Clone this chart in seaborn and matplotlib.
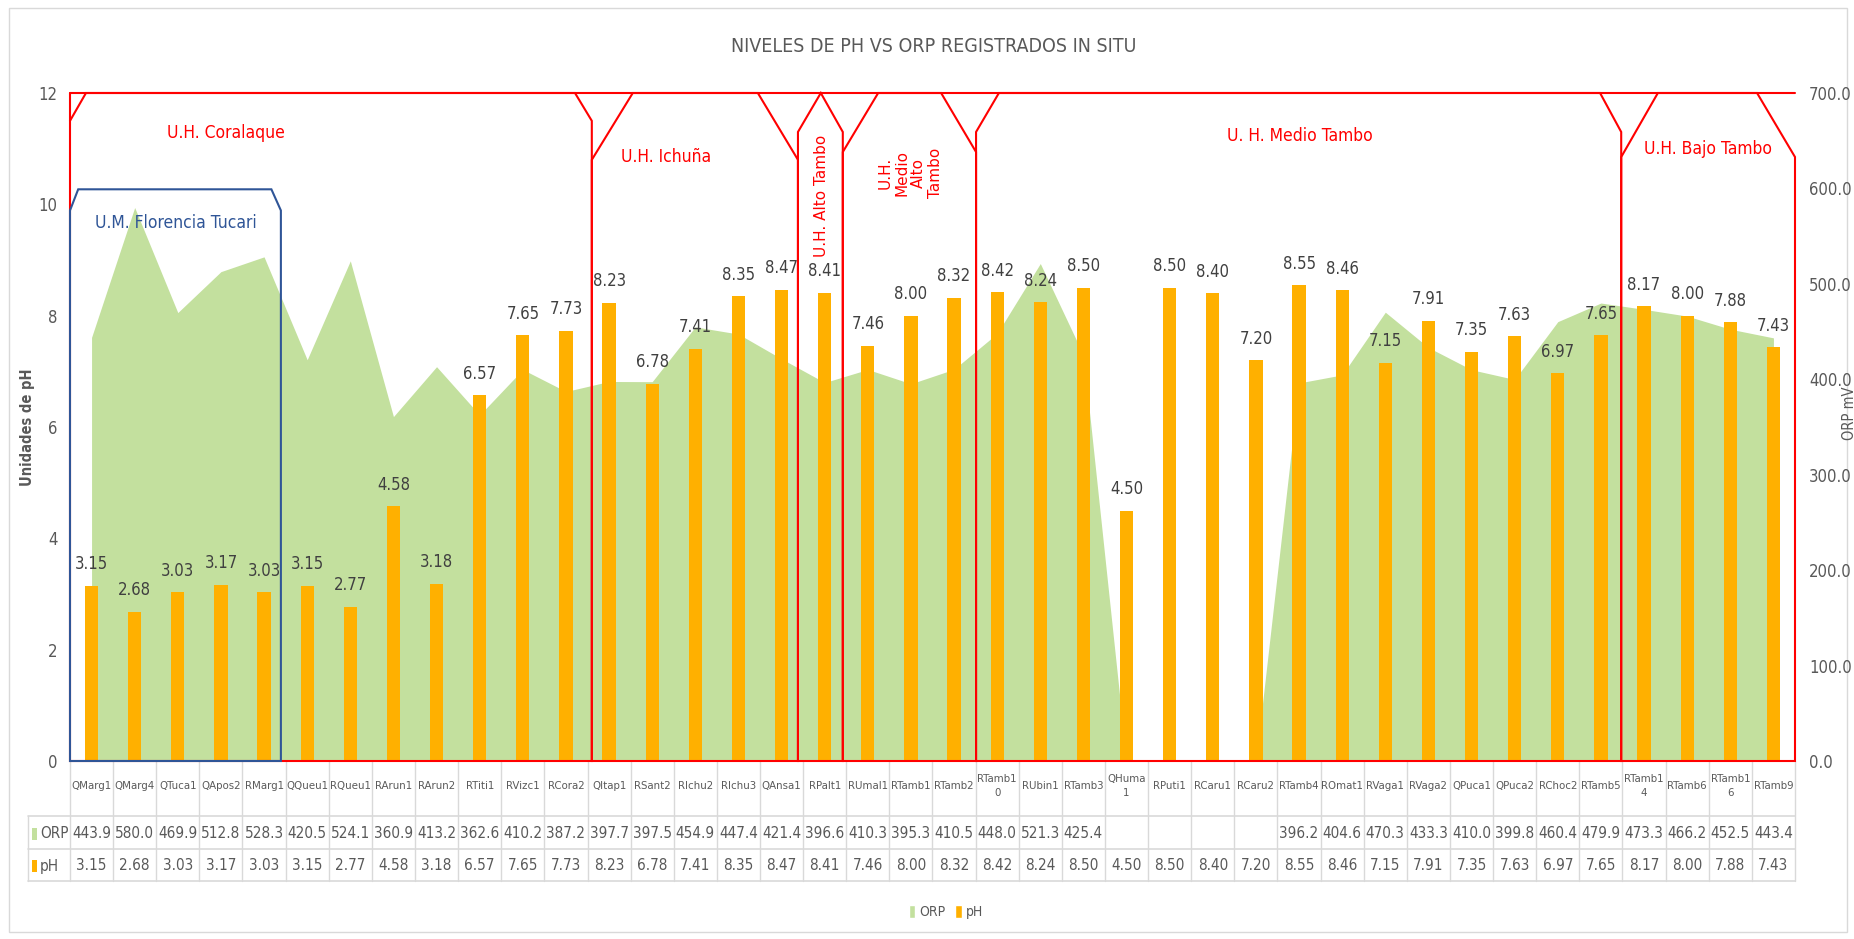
import numpy as np
import pandas as pd
import seaborn as sns
import matplotlib
matplotlib.use("Agg")
from matplotlib import pyplot as plt
from matplotlib import font_manager
from matplotlib.patches import Polygon, Rectangle, Patch
from matplotlib.lines import Line2D
import matplotlib.transforms as mtransforms

# data
sites = ["QMarg1", "QMarg4", "QTuca1", "QApos2", "RMarg1", "QQueu1", "RQueu1", "RArun1",
         "RArun2", "RTiti1", "RVizc1", "RCora2", "QItap1", "RSant2", "RIchu2", "RIchu3",
         "QAnsa1", "RPalt1", "RUmal1", "RTamb1", "RTamb2", "RTamb10", "RUbin1", "RTamb3",
         "QHuma1", "RPuti1", "RCaru1", "RCaru2", "RTamb4", "ROmat1", "RVaga1", "RVaga2",
         "QPuca1", "QPuca2", "RChoc2", "RTamb5", "RTamb14", "RTamb6", "RTamb16", "RTamb9"]
site_labels = ["QMarg1", "QMarg4", "QTuca1", "QApos2", "RMarg1", "QQueu1", "RQueu1", "RArun1",
               "RArun2", "RTiti1", "RVizc1", "RCora2", "QItap1", "RSant2", "RIchu2", "RIchu3",
               "QAnsa1", "RPalt1", "RUmal1", "RTamb1", "RTamb2", "RTamb1\n0", "RUbin1", "RTamb3",
               "QHuma\n1", "RPuti1", "RCaru1", "RCaru2", "RTamb4", "ROmat1", "RVaga1", "RVaga2",
               "QPuca1", "QPuca2", "RChoc2", "RTamb5", "RTamb1\n4", "RTamb6", "RTamb1\n6", "RTamb9"]
orp = [443.9, 580.0, 469.9, 512.8, 528.3, 420.5, 524.1, 360.9, 413.2, 362.6, 410.2, 387.2,
       397.7, 397.5, 454.9, 447.4, 421.4, 396.6, 410.3, 395.3, 410.5, 448.0, 521.3, 425.4,
       np.nan, np.nan, np.nan, np.nan, 396.2, 404.6, 470.3, 433.3, 410.0, 399.8, 460.4, 479.9,
       473.3, 466.2, 452.5, 443.4]
ph = [3.15, 2.68, 3.03, 3.17, 3.03, 3.15, 2.77, 4.58, 3.18, 6.57, 7.65, 7.73,
      8.23, 6.78, 7.41, 8.35, 8.47, 8.41, 7.46, 8.00, 8.32, 8.42, 8.24, 8.50,
      4.50, 8.50, 8.40, 7.20, 8.55, 8.46, 7.15, 7.91, 7.35, 7.63, 6.97, 7.65,
      8.17, 8.00, 7.88, 7.43]

df = pd.DataFrame({"site": sites, "ORP": orp, "pH": ph})

GREEN = "#C3E09E"
ORANGE = "#FFB000"
RED = "#FF0000"
BLUE = "#2F5597"
GRAY = "#595959"
W, H = 1854, 939

sns.set_style("white")
# narrow face if one is installed (the original uses Calibri)
narrow = [f for f in font_manager.fontManager.ttflist
          if f.name == "DejaVu Sans" and f.stretch in ("condensed", "semi-condensed")
          and f.weight in (400, "normal")]
if narrow:
    plt.rcParams["font.family"] = ["DejaVu Sans"]
    plt.rcParams["font.stretch"] = "condensed"
    FS = 11
    CAT_FS = 8.2
else:
    plt.rcParams["font.family"] = ["Liberation Sans", "DejaVu Sans"]
    FS = 10
    CAT_FS = 8

fig = plt.figure(figsize=(W / 100, H / 100), dpi=100)
ax = fig.add_axes([70 / W, 1 - 761 / H, 1725 / W, 668 / H])
ax2 = ax.twinx()

# ORP area (blank values drawn as zero like the spreadsheet)
xs = np.arange(len(df))
ax2.fill_between(xs, df["ORP"].fillna(0).values, 0, color=GREEN, linewidth=0)
ax2.set_ylim(0, 700)
ax2.set_yticks(np.arange(0, 701, 100))
ax2.set_yticklabels([f"{v:.1f}" for v in np.arange(0, 701, 100)])

# pH bars
sns.barplot(data=df, x="site", y="pH", order=sites, ax=ax, color=ORANGE,
            saturation=1, width=0.31, linewidth=0)
ax.bar_label(ax.containers[0], fmt="%.2f", padding=9, color="#404040", fontsize=FS + 1)
ax.set_ylim(0, 12)
ax.set_xlim(-0.5, len(df) - 0.5)
ax2.set_xlim(-0.5, len(df) - 0.5)
ax.set_yticks(np.arange(0, 13, 2))
ax.set_xlabel("")
ax.set_ylabel("Unidades de pH", color=GRAY, fontsize=10.5, fontweight="bold")
ax.yaxis.set_label_coords(-35 / 1725, 0.5)
ax2.set_ylabel("ORP mV", color=GRAY, fontsize=10.5)
ax2.yaxis.set_label_coords((1842 - 70) / 1725, 0.52)
ax.tick_params(axis="x", length=0, labelbottom=False)
ax.tick_params(axis="y", length=0, pad=9, labelcolor=GRAY, labelsize=FS + 1)
ax2.tick_params(axis="y", length=0, pad=10, labelcolor=GRAY, labelsize=FS + 1)
for a in (ax, ax2):
    for s in a.spines.values():
        s.set_visible(False)
ax.set_zorder(2)
ax.patch.set_visible(False)
ax2.set_zorder(1)

# hydrographic unit boxes
boxes = [
    ([(-0.5, 0), (-0.5, 11.5), (-0.13, 12), (11.21, 12), (11.6, 11.5), (11.6, 0)], RED),
    ([(11.6, 0), (11.6, 10.8), (12.55, 12), (15.45, 12), (16.38, 10.8), (16.38, 0)], RED),
    ([(16.38, 0), (16.38, 11.3), (16.91, 12), (17.42, 11.3), (17.42, 0)], RED),
    ([(17.42, 0), (17.42, 10.94), (18.24, 12), (19.7, 12), (20.51, 10.94), (20.51, 0)], RED),
    ([(20.51, 0), (20.51, 11.3), (21.04, 12), (34.98, 12), (35.47, 11.3), (35.47, 0)], RED),
    ([(35.47, 0), (35.47, 10.85), (36.32, 12), (38.62, 12), (39.5, 10.85), (39.5, 0)], RED),
    ([(-0.5, 0), (-0.5, 9.89), (-0.31, 10.27), (4.17, 10.27), (4.39, 9.89), (4.39, 0)], BLUE),
]
for pts, c in boxes:
    ax.add_patch(Polygon(pts, closed=True, fill=False, edgecolor=c, linewidth=1.5,
                         zorder=5, clip_on=False))
ax.plot([-0.5, 39.5], [12, 12], color=RED, linewidth=1.5, zorder=5, clip_on=False)
ax.plot([-0.5, -0.5], [11.5, 12], color=RED, linewidth=1.5, zorder=5, clip_on=False)

lab = dict(color=RED, fontsize=FS + 1.5, ha="center", va="center", zorder=6)
ax.text(3.12, 11.28, "U.H. Coralaque", **lab)
ax.text(13.32, 10.85, "U.H. Ichuña", **lab)
ax.text(28.02, 11.23, "U. H. Medio Tambo", **lab)
ax.text(37.48, 10.99, "U.H. Bajo Tambo", **lab)
ax.text(1.96, 9.66, "U.M. Florencia Tucari", color=BLUE, fontsize=FS + 1.5,
        ha="center", va="center", zorder=6)
ax.text(16.93, 10.15, "U.H. Alto Tambo", color=RED, fontsize=11, rotation=90,
        ha="center", va="center", family="DejaVu Sans", stretch="normal", zorder=6)
ax.text(18.98, 10.56, "U.H.\nMedio\nAlto\nTambo", color=RED, fontsize=11, rotation=90,
        ha="center", va="center", multialignment="center", family="DejaVu Sans",
        stretch="normal", linespacing=1.15, zorder=6)

# data table below the plot
tr = mtransforms.blended_transform_factory(ax.transData, fig.transFigure)
fy = lambda py: 1 - py / H
LINE = "#D9D9D9"
for k in range(len(df) + 1):
    fig.add_artist(Line2D([k - 0.5, k - 0.5], [fy(761), fy(881)], transform=tr,
                          color=LINE, linewidth=1))
fig.add_artist(Line2D([28 / W, 28 / W], [fy(816), fy(881)], color=LINE, linewidth=1))
for py in (816, 849, 881):
    fig.add_artist(Line2D([28 / W, 1795 / W], [fy(py), fy(py)], color=LINE, linewidth=1.2))
for i, name in enumerate(site_labels):
    fig.text(i, fy(786), name, transform=tr, ha="center", va="center", color=GRAY,
             fontsize=CAT_FS, linespacing=1.6)
    if not np.isnan(orp[i]):
        fig.text(i, fy(834), f"{orp[i]:.1f}", transform=tr, ha="center", va="center",
                 color=GRAY, fontsize=FS)
    fig.text(i, fy(866), f"{ph[i]:.2f}", transform=tr, ha="center", va="center",
             color=GRAY, fontsize=FS)
for py, name, c in ((834, "ORP", GREEN), (866, "pH", ORANGE)):
    fig.add_artist(Rectangle((32 / W, fy(py + 6)), 5 / W, 12 / H, facecolor=c,
                             edgecolor="none"))
    fig.text(40 / W, fy(py), name, ha="left", va="center", color=GRAY, fontsize=FS)

# legend
handles = [Patch(facecolor=GREEN, label="ORP"), Patch(facecolor=ORANGE, label="pH")]
fig.legend(handles=handles, loc="center", bbox_to_anchor=(946 / W, fy(912)), ncol=2,
           frameon=False, fontsize=FS - 1, handlelength=0.45, handleheight=1.1,
           handletextpad=0.3, columnspacing=0.7, labelcolor=GRAY)

fig.text(934 / W, fy(47), "NIVELES DE PH VS ORP REGISTRADOS IN SITU", ha="center",
         va="center", color=GRAY, fontsize=FS + 3)

fig.add_artist(Rectangle((9 / W, fy(932)), 1838 / W, 924 / H, fill=False,
                         edgecolor=LINE, linewidth=1))

fig.savefig("out.png", dpi=100)
